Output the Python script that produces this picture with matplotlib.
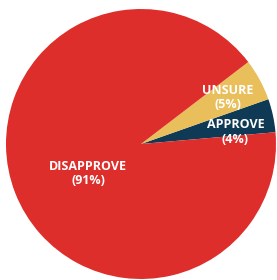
import matplotlib
matplotlib.use("Agg")
import matplotlib.pyplot as plt

# poll answers, counterclockwise from the right side
labels = ["APPROVE", "UNSURE", "DISAPPROVE"]
shares = [4, 5, 91]
colors = ["#0f3a56", "#e8bf5a", "#de2e2b"]

# where each label block sits (data units, pie radius = 1)
label_pos = [(0.70, 0.09), (0.645, 0.345), (-0.39, -0.22)]

fig = plt.figure(figsize=(2.77, 2.80), dpi=100)
ax = fig.add_axes([0, 0, 1, 1])

ax.pie(shares, colors=colors, startangle=5, counterclock=True,
       wedgeprops=dict(linewidth=0))

for lab, val, (x, y) in zip(labels, shares, label_pos):
    ax.text(x, y, "%s\n(%d%%)" % (lab, val), color="white",
            fontsize=9, fontweight="bold", family="Open Sans",
            ha="center", va="center", linespacing=1.15)

# pie centre sits at pixel (141, 144), radius ~135 px
r = 135.0
ax.set_xlim(-141 / r, (277 - 141) / r)
ax.set_ylim(-(280 - 144) / r, 144 / r)
ax.set_aspect("auto")
ax.axis("off")

fig.savefig("out.png", dpi=100)
